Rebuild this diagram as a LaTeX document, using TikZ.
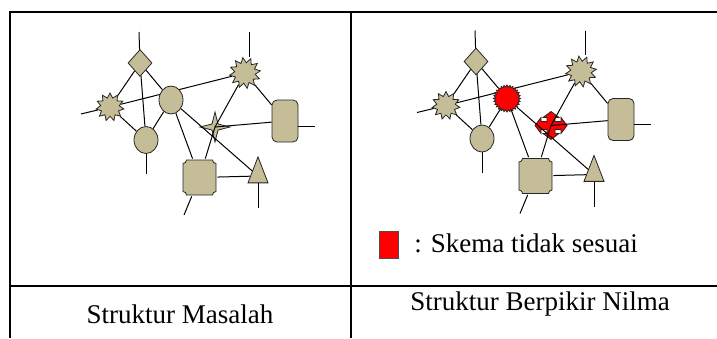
\documentclass[tikz,border=0pt]{standalone}
\usepackage{fontspec}
\setmainfont{Liberation Serif}
\usetikzlibrary{
  shapes.geometric,
  backgrounds
}
\definecolor{khaki}{RGB}{196,189,151}

\begin{document}
\begin{tikzpicture}[
  x=0.5pt, y=-0.5pt,
  every node/.style={font=\fontsize{13.5}{16}\selectfont},
  part/.style={draw=black!85, fill=khaki, line width=0.4pt, inner sep=0},
  burst/.style={part, star, star point ratio=1.5},
  link/.style={line width=0.5pt},
  rule/.style={line width=1pt},
  hubA/.style={part, ellipse, minimum width=12pt, minimum height=14pt},
  hubB/.style={part, fill=red, star, star points=28, star point ratio=1.18,
               minimum size=13.5pt},
  markA/.style={part, star, star points=4, star point ratio=3.5,
                minimum size=15pt},
  % four-way arrow, drawn inside an invisible box
  markB/.style={rectangle, inner sep=0, minimum width=17pt, minimum height=15pt,
    path picture={
      \draw[draw=black!85, line width=0.4pt, fill=red,
            shift={(path picture bounding box.center)}]
        (16,0) -- (10,-8) -- (10,-4) -- (4,-4) -- (4,-8) -- (8,-8)
        -- (0,-14) -- (-8,-8) -- (-4,-8) -- (-4,-4) -- (-10,-4)
        -- (-10,-8) -- (-16,0) -- (-10,8) -- (-10,4) -- (-4,4)
        -- (-4,8) -- (-8,8) -- (0,14) -- (8,8) -- (4,8) -- (4,4)
        -- (10,4) -- (10,8) -- cycle;
    }},
  % box with hollowed corners
  plaqueBox/.style={rectangle, inner sep=0, minimum width=17.5pt,
    minimum height=18.5pt,
    path picture={
      \draw[draw=black!85, line width=0.4pt, fill=khaki, y=0.5pt,
            shift={(path picture bounding box.center)}]
        (-13,17.5) -- (13,17.5) arc[start angle=180, end angle=270, radius=3.5]
        -- (16.5,-14) arc[start angle=90, end angle=180, radius=3.5]
        -- (-13,-17.5) arc[start angle=0, end angle=90, radius=3.5]
        -- (-16.5,14) arc[start angle=270, end angle=360, radius=3.5]
        -- cycle;
    }}
]
\useasboundingbox (0,0) rectangle (717,338);

% Table rules
\draw[rule] (10,338) -- (10,12) -- (717,12);
\draw[rule] (351,12) -- (351,338);
\draw[rule] (10,286) -- (717,286);

% Both schemes, the second one with the two odd parts in red
\foreach \p/\dx/\dy/\core/\odd in {L/0/0/hubA/markA, R/336/-1.5/hubB/markB} {
  \begin{scope}[shift={(\dx,\dy)}, name prefix=\p-]
    \node[part, diamond, aspect=0.9, minimum width=12pt, minimum height=13.5pt]
      (dia) at (140,63) {};
    \node[burst, star points=11, minimum size=14pt] (burstL) at (110,107) {};
    \node[burst, star points=12, rotate=8, minimum size=15.5pt]
      (burstR) at (245,73) {};
    \node[\core] (hub) at (171,100) {};
    \node[part, ellipse, minimum width=12pt, minimum height=13.5pt]
      (ball) at (146,140) {};
    \node[part, rectangle, rounded corners=2.5pt, minimum width=13pt,
          minimum height=21pt] (box) at (285,121) {};
    \node[\odd] (mark) at (215,127) {};
    \node[plaqueBox] (plaque) at (199.5,177.5) {};
    \node[part, isosceles triangle, isosceles triangle stretches,
          shape border rotate=90, minimum width=10pt, minimum height=13pt]
      (tri) at (258,176) {};

    % loose ends
    \coordinate (diaEnd) at (139,32);
    \coordinate (burstREnd) at (249,32);
    \coordinate (burstLEnd) at (81,114);
    \coordinate (boxEnd) at (315,126);
    \coordinate (ballEnd) at (146,174);
    \coordinate (plaqueEnd) at (184,215);
    \coordinate (triEnd) at (258,208);

    \begin{scope}[on background layer]
      \foreach \u/\v in {dia/burstL, dia/ball, dia/hub, burstL/ball, ball/hub,
                         hub/plaque, burstR/box, plaque/tri, burstL/burstR}
        \draw[link] (\u) -- (\v);
    \end{scope}
    \draw[link] (hub) -- (tri);
    \foreach \v in {burstR, box, plaque}
      \draw[link] (mark.center) -- (\v);

    \draw[link] (diaEnd) -- (dia);
    \draw[link] (burstREnd) -- (burstREnd |- burstR.north);
    \draw[link] (burstLEnd) -- (burstL);
    \draw[link] (boxEnd) -- (boxEnd -| box.east);
    \draw[link] (ballEnd) -- (ball);
    \draw[link] (plaqueEnd) -- (plaque);
    \draw[link] (triEnd) -- (tri);
  \end{scope}
}

% Legend
\node[draw=black!70, fill=red, line width=0.4pt, minimum width=9.5pt,
      minimum height=13.5pt, inner sep=0] (key) at (388.5,244.5) {};
\node[anchor=base west, inner sep=0] (keyText) at (414,252) {: Skema tidak sesuai};

% Captions
\node[anchor=base] (capL) at (180,323) {Struktur Masalah};
\node[anchor=base] (capR) at (540,310) {Struktur Berpikir Nilma};

\end{tikzpicture}
\end{document}
